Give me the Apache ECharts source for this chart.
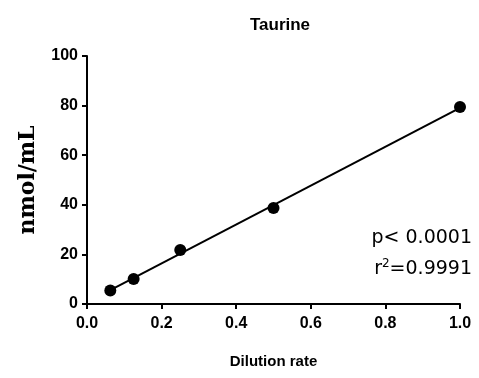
<!DOCTYPE html>
<html><head><meta charset="utf-8">
<script src="https://cdn.jsdelivr.net/npm/echarts@6/dist/echarts.min.js"></script>
<style>html,body{margin:0;padding:0;background:#fff}#c{width:479px;height:378px}</style>
</head><body><div id="c"></div>
<script>
const dilution = [0.0625, 0.125, 0.25, 0.5, 1.0];
const taurine = [5.4, 10.1, 21.8, 38.7, 79.4];
const fitX = [0.0625, 1.0];
const fitY = [5.6, 79.1];
const xTicks = [0.0, 0.2, 0.4, 0.6, 0.8, 1.0];
const yTicks = [0, 20, 40, 60, 80, 100];

const chart = echarts.init(document.getElementById('c'), null, {renderer: 'canvas'});
const axisFont = {fontFamily: 'Liberation Sans, Arial, sans-serif', fontWeight: 'bold', fontSize: 16, color: '#000'};
chart.setOption({
  animation: false,
  backgroundColor: '#fff',
  title: {
    text: 'Taurine', left: 275, top: 12, textAlign: 'center',
    textStyle: {fontFamily: 'Liberation Sans, Arial, sans-serif', fontWeight: 'bold', fontSize: 17, color: '#000'}
  },
  grid: {left: 87, right: 19, top: 56, bottom: 74, containLabel: false},
  xAxis: {
    type: 'value', min: 0, max: 1, interval: 0.2,
    name: 'Dilution rate', nameLocation: 'middle', nameGap: 50,
    nameTextStyle: {fontFamily: 'Liberation Sans, Arial, sans-serif', fontWeight: 'bold', fontSize: 15, color: '#000'},
    axisLine: {show: true, onZero: false, lineStyle: {color: '#000', width: 2}},
    axisTick: {show: true, length: 5, lineStyle: {color: '#000', width: 2}},
    axisLabel: Object.assign({margin: 12, formatter: v => { const t = xTicks.find(x => Math.abs(x - v) < 1e-9); return t === undefined ? '' : t.toFixed(1); }}, axisFont),
    splitLine: {show: false}
  },
  yAxis: {
    type: 'value', min: 0, max: 100, interval: 20,
    name: 'nmol/mL', nameLocation: 'middle', nameGap: 48,
    nameTextStyle: {fontFamily: 'DejaVu Serif, serif', fontWeight: 'bold', fontSize: 22, color: '#000'},
    axisLine: {show: true, onZero: false, lineStyle: {color: '#000', width: 2}},
    axisTick: {show: true, length: 5, lineStyle: {color: '#000', width: 2}},
    axisLabel: Object.assign({margin: 9, formatter: v => yTicks.includes(v) ? String(v) : ''}, axisFont),
    splitLine: {show: false}
  },
  series: [
    {
      type: 'line', data: fitX.map((x, i) => [x, fitY[i]]),
      symbol: 'none', lineStyle: {color: '#000', width: 2}, z: 2
    },
    {
      type: 'scatter', data: dilution.map((x, i) => [x, taurine[i]]),
      symbol: 'circle', symbolSize: 12, itemStyle: {color: '#000', opacity: 1}, z: 3
    }
  ],
  graphic: [
    {type: 'text', right: 7, top: 229, style: {text: 'p< 0.0001', font: '19px DejaVu Sans, sans-serif', fill: '#000'}},
    {type: 'text', right: 7, top: 258, style: {
      text: '{a|r}{s|2}{a|=0.9991}',
      rich: {
        a: {font: '19px DejaVu Sans, sans-serif', fill: '#000', verticalAlign: 'bottom'},
        s: {font: '12px DejaVu Sans, sans-serif', fill: '#000', verticalAlign: 'top', padding: [0,0,9,0]}
      }
    }}
  ]
});
</script></body></html>
